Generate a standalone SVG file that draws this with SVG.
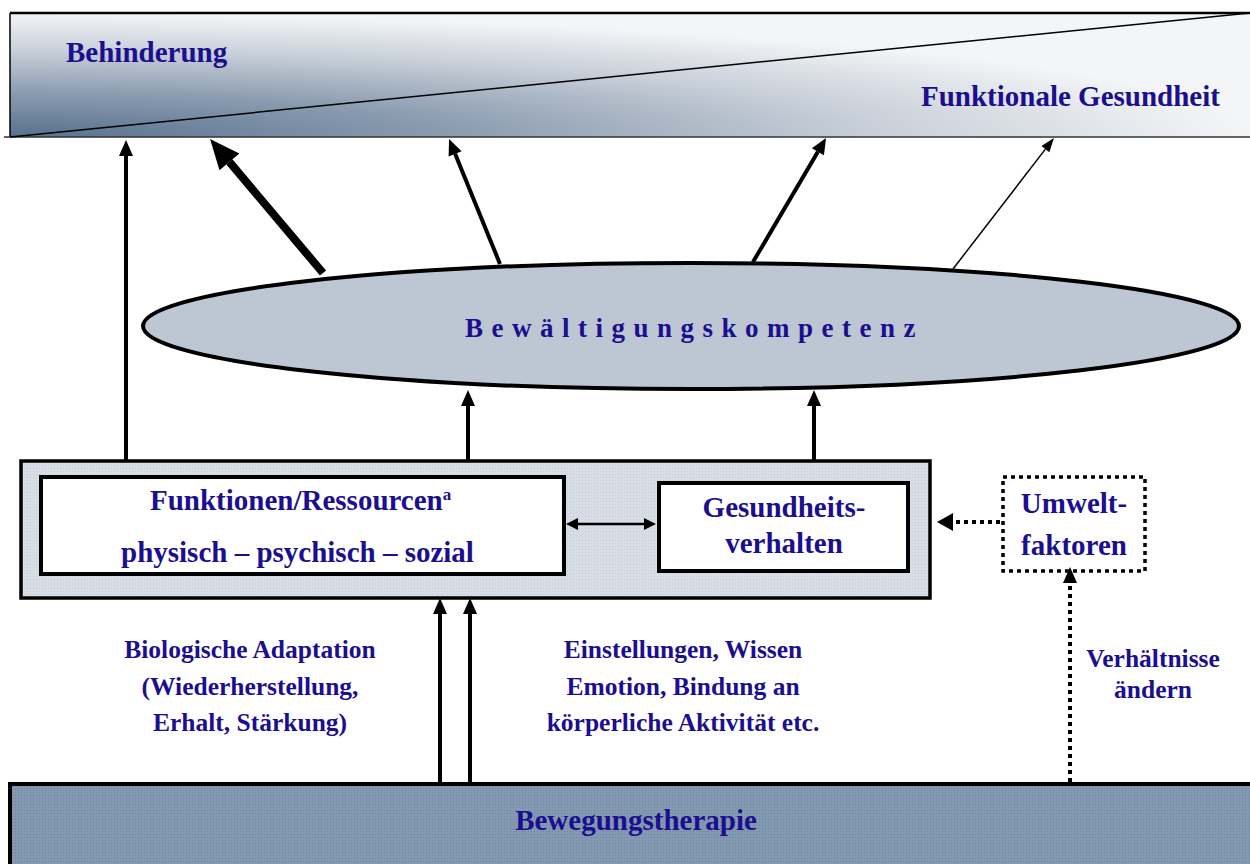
<svg xmlns="http://www.w3.org/2000/svg" width="1250" height="864" viewBox="0 0 1250 864">
<style>
.t{font-family:"Liberation Serif","Times New Roman",serif;font-weight:bold;fill:#1b0f8f}
.big{font-size:29px}
.lab{font-size:25.5px}
.mid{text-anchor:middle}
.ln{stroke:#000;fill:none}
.box{stroke:#000;stroke-width:4;fill:#fff}
.dot{stroke-dasharray:4 4}
</style>
<defs>
<radialGradient id="gBan" cx="0" cy="1" r="1" fx="0" fy="1">
<stop offset="0" stop-color="#57718d"/>
<stop offset="0.35" stop-color="#8a9bb0"/>
<stop offset="0.7" stop-color="#c9d0d9"/>
<stop offset="1" stop-color="#f4f5f7"/>
</radialGradient>
<pattern id="texL" width="3" height="3" patternUnits="userSpaceOnUse">
<rect width="3" height="3" fill="#d7dee6"/><rect width="1" height="1" fill="#c2cbd6"/>
</pattern>
<pattern id="texD" width="3" height="3" patternUnits="userSpaceOnUse">
<rect width="3" height="3" fill="#8399b1"/><rect width="1" height="1" fill="#6f859e"/>
</pattern>
<marker id="ah" markerUnits="userSpaceOnUse" markerWidth="16" markerHeight="14" refX="0" refY="7" orient="auto" overflow="visible">
<path d="M0,0 L16,7 L0,14 Z" fill="#000"/>
</marker>
<marker id="ahBig" markerUnits="userSpaceOnUse" markerWidth="30" markerHeight="26" refX="0" refY="13" orient="auto" overflow="visible">
<path d="M0,0 L30,13 L0,26 Z" fill="#000"/>
</marker>
<marker id="ahThin" markerUnits="userSpaceOnUse" markerWidth="14" markerHeight="10" refX="0" refY="5" orient="auto" overflow="visible">
<path d="M0,0 L14,5 L0,10 Z" fill="#000"/>
</marker>
<marker id="ahS" markerUnits="userSpaceOnUse" markerWidth="12" markerHeight="12" refX="0" refY="6" orient="auto-start-reverse" overflow="visible">
<path d="M0,0 L12,6 L0,12 Z" fill="#000"/>
</marker>
<marker id="ahD" markerUnits="userSpaceOnUse" markerWidth="16" markerHeight="18" refX="0" refY="9" orient="auto" overflow="visible">
<path d="M0,0 L16,9 L0,18 Z" fill="#000"/>
</marker>
</defs>
<rect width="1250" height="864" fill="#fff"/>

<g id="banner">
<rect x="10" y="13" width="1245" height="124" fill="url(#gBan)"/>
<line class="ln" x1="10" y1="13" x2="1250" y2="13" stroke-width="2.5"/>
<line class="ln" x1="10" y1="13" x2="10" y2="137" stroke-width="1.5"/>
<line x1="4" y1="137" x2="1250" y2="137" stroke="#333" stroke-width="1.5"/>
<line class="ln" x1="10" y1="137" x2="1250" y2="13" stroke-width="1.5"/>
<text class="t big" x="66" y="62">Behinderung</text>
<text class="t big" x="921" y="106">Funktionale Gesundheit</text>
</g>

<g id="ellipse">
<ellipse cx="691" cy="326" rx="548" ry="63" fill="#bcc7d3" stroke="#000" stroke-width="4"/>
<text class="t" x="465" y="337" font-size="27" letter-spacing="8.5">Bewältigungskompetenz</text>
</g>

<g id="ressourcen-frame">
<rect x="21" y="461" width="909" height="137" fill="url(#texL)" stroke="#000" stroke-width="3.5"/>
</g>
<g id="funktionen">
<rect class="box" x="41" y="477" width="523" height="97"/>
<text class="t big" x="150" y="510">Funktionen/Ressourcen<tspan font-size="17" dy="-10">a</tspan></text>
<text class="t big" x="121" y="562">physisch – psychisch – sozial</text>
</g>
<g id="gesundheitsverhalten">
<rect class="box" x="659" y="483" width="249" height="88"/>
<text class="t big mid" x="784" y="517">Gesundheits-</text>
<text class="t big mid" x="784" y="553">verhalten</text>
</g>
<g id="umwelt">
<rect x="1003" y="477" width="142" height="94" fill="#fff" stroke="#000" stroke-width="3.5" stroke-dasharray="4 4"/>
<text class="t big mid" x="1074" y="513">Umwelt-</text>
<text class="t big mid" x="1074" y="555">faktoren</text>
</g>

<g id="bewegungstherapie">
<rect x="10" y="784" width="1250" height="90" fill="url(#texD)" stroke="#000" stroke-width="4"/>
<text class="t big mid" x="636" y="830">Bewegungstherapie</text>
</g>

<g id="labels">
<text class="t lab mid" x="250" y="658">Biologische Adaptation</text>
<text class="t lab mid" x="250" y="695">(Wiederherstellung,</text>
<text class="t lab mid" x="250" y="731">Erhalt, Stärkung)</text>
<text class="t lab mid" x="683" y="658">Einstellungen, Wissen</text>
<text class="t lab mid" x="683" y="695">Emotion, Bindung an</text>
<text class="t lab mid" x="683" y="731">körperliche Aktivität etc.</text>
<text class="t lab mid" x="1153" y="667">Verhältnisse</text>
<text class="t lab mid" x="1153" y="698">ändern</text>
</g>

<g id="connectors">
<line class="ln" x1="126" y1="460" x2="126" y2="156" stroke-width="4" marker-end="url(#ah)"/>
<line class="ln" x1="323" y1="273" x2="229.4" y2="161.9" stroke-width="8" marker-end="url(#ahBig)"/>
<line class="ln" x1="500" y1="264" x2="455.1" y2="153.8" stroke-width="4" marker-end="url(#ah)"/>
<line class="ln" x1="753" y1="262" x2="817.9" y2="151.8" stroke-width="4" marker-end="url(#ah)"/>
<line class="ln" x1="953" y1="269" x2="1045.4" y2="149.1" stroke-width="1.5" marker-end="url(#ahThin)"/>
<line class="ln" x1="468" y1="460" x2="468" y2="406" stroke-width="4" marker-end="url(#ah)"/>
<line class="ln" x1="814" y1="460" x2="814" y2="406" stroke-width="4" marker-end="url(#ah)"/>
<line class="ln" x1="440" y1="783" x2="440" y2="614" stroke-width="4" marker-end="url(#ah)"/>
<line class="ln" x1="470" y1="783" x2="470" y2="614" stroke-width="4" marker-end="url(#ah)"/>
<line class="ln" x1="578" y1="524" x2="644" y2="524" stroke-width="2.5" marker-start="url(#ahS)" marker-end="url(#ahS)"/>
<line class="ln dot" x1="1000" y1="522" x2="953" y2="522" stroke-width="4" marker-end="url(#ahD)"/>
<line class="ln dot" x1="1070" y1="782" x2="1070" y2="583" stroke-width="4" marker-end="url(#ah)"/>
</g>
</svg>
